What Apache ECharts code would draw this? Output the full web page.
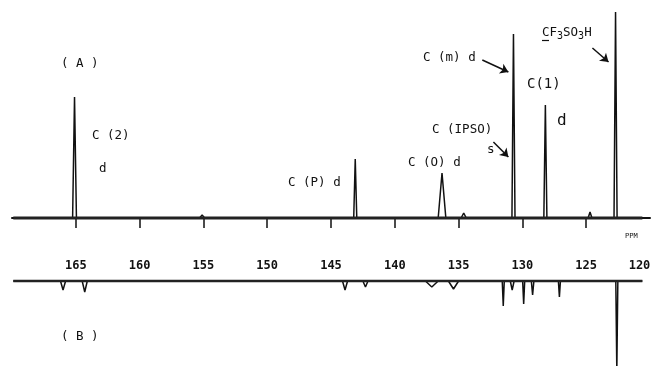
<!DOCTYPE html>
<html>
<head>
<meta charset="utf-8">
<script src="https://cdn.jsdelivr.net/npm/echarts@6/dist/echarts.min.js"></script>
<style>
html,body{margin:0;padding:0;background:#fff;}
#nmr_chart{width:651px;height:366px;}
</style>
</head>
<body>
<div id="nmr_chart"></div>
<script>
//化学位移范围 ppm (谱线起止)
var ppmRange=[169.9,120.6];
//刻度与标签
var tickValues=[165,160,155,150,145,140,135,130,125];
var labelValues=[165,160,155,150,145,140,135,130,125,120];

//(A) 谱峰：位置，高度，半宽
var peaksA_pos=[165.1,155.1,143.1,136.3,134.6,130.7,128.2,124.7,122.7];
var peaksA_height=[121,3,59,45,5,184,113,6,206];
var peaksA_width=[0.15,0.2,0.12,0.3,0.2,0.12,0.12,0.15,0.12];

//(B) 谱峰 (向下)
var peaksB_pos=[166.0,164.3,143.9,142.3,137.1,135.4,131.5,130.8,129.9,129.2,127.1,122.6];
var peaksB_height=[-9,-11,-9,-6,-6,-8,-25,-9,-23,-14,-16,-90];
var peaksB_width=[0.2,0.2,0.2,0.2,0.5,0.4,0.08,0.15,0.08,0.1,0.08,0.08];

var fontMono='DejaVu Sans Mono';
var ink='#111';

/*把峰列表拼成谱线*/
function buildTrace(pos,height,width){
    var idx=[];
    for(var i=0;i<pos.length;i++){ idx.push(i); }
    idx.sort(function(a,b){ return pos[b]-pos[a]; });
    var pts=[[ppmRange[0],0]];
    for(var k=0;k<idx.length;k++){
        var i=idx[k];
        pts.push([pos[i]+width[i],0]);
        pts.push([pos[i],height[i]]);
        pts.push([pos[i]-width[i],0]);
    }
    pts.push([ppmRange[1],0]);
    return pts;
}

function txt(x,y,s,size,weight){
    return {type:'text',left:x,top:y-(size||12.5)/2-1,style:{text:s,fill:ink,font:(weight||'normal')+' '+(size||12.5)+'px '+fontMono}};
}

var myChart=echarts.init(document.getElementById('nmr_chart'));
option={
    backgroundColor:'#fff',
    animation:false,
    grid:[
        {left:12,right:1,top:0,height:242,outerBoundsMode:'none',containLabel:false},
        {left:12,right:1,top:270,height:96,outerBoundsMode:'none',containLabel:false}
    ],
    xAxis:[
        {
            type:'value',gridIndex:0,min:120,max:170,inverse:true,position:'bottom',
            splitLine:{show:false},
            axisLine:{show:true,lineStyle:{color:ink,width:2}},
            axisTick:{show:true,customValues:tickValues,length:10,lineStyle:{color:ink,width:1.5}},
            axisLabel:{
                show:true,customValues:labelValues,margin:18,color:ink,fontFamily:fontMono,fontSize:12,fontWeight:'bold',
                formatter:function(v){ return v===120 ? '{r|120}' : v+''; },  //最右端标签左移，避免被裁掉
                rich:{r:{color:ink,fontFamily:fontMono,fontSize:12,fontWeight:'bold',padding:[0,21,0,0]}}
            }
        },
        {type:'value',gridIndex:1,min:120,max:170,inverse:true,show:false}
    ],
    yAxis:[
        {type:'value',gridIndex:0,min:-24,max:218,show:false},
        {type:'value',gridIndex:1,min:-85,max:11,show:false}
    ],
    series:[
        {
            name:'A',type:'line',xAxisIndex:0,yAxisIndex:0,
            data:buildTrace(peaksA_pos,peaksA_height,peaksA_width),
            symbol:'none',lineStyle:{color:ink,width:1.5},
            markLine:{
                silent:true,symbol:['none','arrow'],symbolSize:8,
                label:{show:false},
                lineStyle:{color:ink,width:1.5,type:'solid'},
                data:[
                    [{coord:[133.14,158]},{coord:[131.1,146]}],
                    [{coord:[132.27,76]},{coord:[131.1,61]}],
                    [{coord:[124.51,170]},{coord:[123.25,156]}]
                ]
            }
        },
        {
            name:'A_base',type:'line',xAxisIndex:0,yAxisIndex:0,
            data:[[ppmRange[0],0],[ppmRange[1],0]],
            symbol:'none',lineStyle:{color:'#222',width:3}
        },
        {
            name:'B',type:'line',xAxisIndex:1,yAxisIndex:1,
            data:buildTrace(peaksB_pos,peaksB_height,peaksB_width),
            symbol:'none',lineStyle:{color:ink,width:1.5}
        },
        {
            name:'B_base',type:'line',xAxisIndex:1,yAxisIndex:1,
            data:[[ppmRange[0],0],[ppmRange[1],0]],
            symbol:'none',lineStyle:{color:'#222',width:2.5}
        }
    ],
    graphic:[
        txt(61,64,'( A )'),
        txt(92,136,'C (2)'),
        txt(99,169,'d'),
        txt(288,183,'C (P) d'),
        txt(408,163,'C (O) d'),
        txt(432,130,'C (IPSO)'),
        txt(487,150,'s'),
        txt(423,58,'C (m) d'),
        txt(527,85,'C(1)',14),
        txt(557,122,'d',16),
        {type:'text',left:542,top:26,style:{
            text:'CF{s|3}SO{s|3}H',fill:ink,font:'12.5px '+fontMono,
            rich:{s:{fontSize:10,fontFamily:fontMono,fill:ink,padding:[7,0,0,0]}}
        }},
        {type:'line',shape:{x1:542,y1:40.5,x2:549,y2:40.5},style:{stroke:ink,lineWidth:1.2}},
        txt(625,237,'PPM',7),
        txt(61,337,'( B )')
    ]
};
myChart.setOption(option);
window.addEventListener("resize",function(){ myChart.resize(); });
</script>
</body>
</html>
